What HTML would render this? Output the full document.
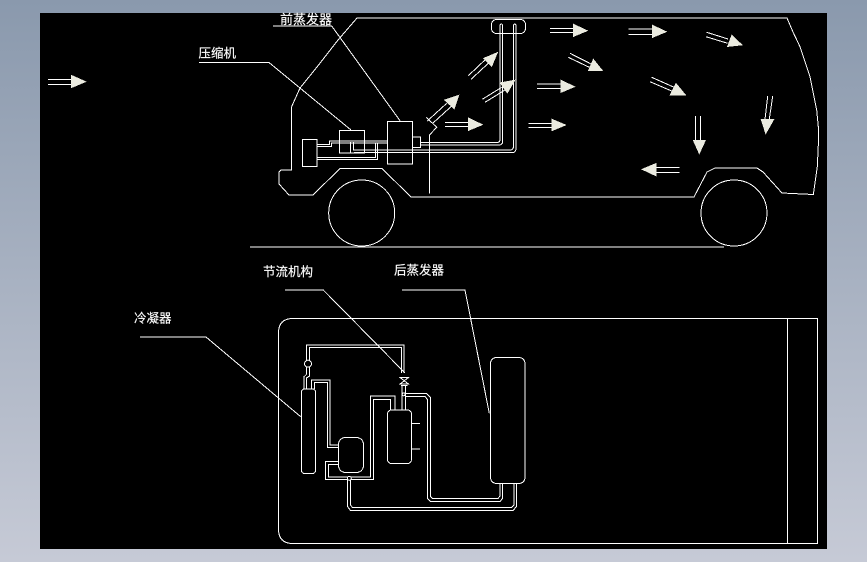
<!DOCTYPE html>
<html><head><meta charset="utf-8"><style>
html,body{margin:0;padding:0;width:867px;height:562px;overflow:hidden;background:#000}
svg{display:block}
text{font-family:"Liberation Sans","Noto Sans CJK SC",sans-serif;font-size:12.500px;fill:#fff;stroke:#fff;stroke-width:.15}
.l{fill:none;stroke:#fff;stroke-width:1;shape-rendering:crispEdges}
.a{fill:#ebebe0;stroke:#ebebe0;stroke-width:.5;shape-rendering:crispEdges}
</style></head><body>
<svg width="867" height="562" viewBox="0 0 867 562" xmlns="http://www.w3.org/2000/svg">
<defs><linearGradient id="g" x1="0" y1="0" x2="0" y2="1"><stop offset="0" stop-color="#8a99ad"/><stop offset="1" stop-color="#c6cad6"/></linearGradient></defs>
<rect width="867" height="562" fill="url(#g)"/>
<rect x="40" y="13" width="787" height="536" fill="#000"/>

<g class="l">
<!-- van -->
<path d="M357 18H787L793 32L800 46.700L810 76.700L816.700 110L818.300 126.700L818.300 145L817.300 166.700L813.300 194.500L782 193L763 172L757 168H715L707 172L694 197H692H411L382 168.500H340L313 195H289L279 184V172L281 170H291.500V107L300 88L317 67L338 40Z"/>
<circle cx="361.700" cy="213" r="33"/>
<circle cx="734" cy="213" r="33"/>
<path d="M250 247H724"/>
<path d="M426.300 117.300L436.700 127.300L429.500 135V193.500"/>
<!-- engine -->
<rect x="302.500" y="139.500" width="14.500" height="27"/>
<rect x="339.500" y="130.500" width="25" height="22.500"/>
<rect x="387.500" y="121.500" width="25" height="42.500"/>
<rect x="412.500" y="137" width="8" height="10.500"/>
<path d="M317 144.500H329.500V141H387.500M317 146.500H331.500V143H387.500"/>
<path d="M317 157.500H375.500V142.500M317 159.500H377.500V142.500"/>
<path d="M350.500 142V153M353.500 142V150H510Q513.500 150 513.500 146V25M354 152.700H512Q516 152.700 516 148V25"/>
<path d="M420.500 142.500H497Q500 142.500 500 139V25M420.500 145H499Q502.700 145 502.700 141V25"/>
<path d="M500 25Q501.500 23 502.700 25M513.500 25Q515 23 516 25"/>
<rect x="491.500" y="19.500" width="34" height="14" rx="5"/>
<!-- bottom frame -->
<path d="M817.500 318.500H293Q278.500 318.500 278.500 333V529Q278.500 543.500 293 543.500H817.500ZM787.500 318.500V543.500"/>
<!-- components -->
<rect x="301.500" y="389" width="14" height="84.500" rx="3"/>
<rect x="338.500" y="437.500" width="25" height="35" rx="7"/>
<rect x="387.500" y="410" width="24" height="53.500" rx="4"/>
<rect x="490.500" y="357.500" width="34.500" height="126" rx="6"/>
<path d="M411.500 423.500H420M411.500 449H420"/>
<path d="M304 389V376.700L306.500 374.300V345H404V373M306.500 389V378L309.500 376V347.500H401.500V373"/>
<path d="M400 377.500H408.500L400 384H408.500ZM401 385.500H407.500M402 385V410M405.500 385V410"/>
<path d="M311.500 389V380H330V445H338.500M314.500 389V382.500H327.500V447.500H338.500"/>
<path d="M338.500 461.500H325.500V479.500H373.500V399.500H390.500V410M338.500 464.500H328.500V477H370.500V396H395V410"/>
<path d="M347.500 478V506.500L350.500 510.500H513L516.500 506.500V483.500M350.500 478V505L352.500 507.500H511.500L514 505V483.500"/>
<path d="M405.500 393.500H426.500L430.500 397.500V496.500L432.500 498.500H498L500 496V483.500M405.500 396.500H425L427.500 399.500V498.500L430.500 501.500H500L502.500 498.500V483.500"/>
<circle cx="308" cy="363.700" r="3.500" fill="#000"/>
<circle cx="403.700" cy="394.300" r="1.500" fill="#000"/>
<circle cx="349.300" cy="478.300" r="2" fill="#000"/>
<!-- leaders -->
<path d="M273 26H331.700L400 120.700"/>
<path d="M199 62.500H269L351 130"/>
<path d="M285 290H323.300L405 373"/>
<path d="M402 290H465L489.300 413.300"/>
<path d="M140 337H206L300.700 416.700"/>
<!-- arrow shafts -->
<path d="M48 79.500H71M48 84.500H71"/>
<path d="M468.300 75.700L486.700 58.300M471 79.300L488.300 63.300"/>
<path d="M482.300 99.300L501.700 87.300M485 102.300L505 90"/>
<path d="M427.300 121L446.700 103.300M432.700 123.300L451.700 106"/>
<path d="M445 122.500H468.300M445 126.500H468.300"/>
<path d="M528.300 123.500H551.700M528.300 127.500H551.700"/>
<path d="M537 84H560.700M537 88.500H560.700"/>
<path d="M550 28.500H573.300M550 32.500H573.300"/>
<path d="M628.300 29H652.300M628.300 34.500H652.300"/>
<path d="M706.700 32.300L728 39M706 36.700L727.700 43.300"/>
<path d="M570 53.300L591.700 64.300M568.300 57.300L589.300 67.300"/>
<path d="M651.700 77.300L675 87.700M650 81.700L671.700 91"/>
<path d="M695.500 116V140M700.500 116V140"/>
<path d="M767.700 96L765 119.300M772.700 96L769.300 119.300"/>
<path d="M679.300 167.500H656M679.300 172.500H656"/>
</g>
<g class="a">
<polygon points="71,75 71,88 86,81.700"/>
<polygon points="497.700,52.300 483.300,58.300 491.700,66.700"/>
<polygon points="515,80 500,82.700 507.300,93.300"/>
<polygon points="459,95 444.300,100 454.300,109"/>
<polygon points="468.300,117.700 468.300,130.700 482.700,124.700"/>
<polygon points="551.700,119 551.700,131 566,125"/>
<polygon points="560.700,80 560.700,92.700 575,86.700"/>
<polygon points="573.300,24 573.300,36.700 587.700,30.700"/>
<polygon points="652.300,25 652.300,37.700 666.700,31.700"/>
<polygon points="742.300,45 731.700,35 727.300,46.700"/>
<polygon points="602.700,70.700 593.300,59 588.300,70.700"/>
<polygon points="685.700,95 676,83.300 670,95"/>
<polygon points="693,140 705.700,140 699.300,154"/>
<polygon points="761,119.300 774,119.300 765.700,134"/>
<polygon points="656,163.300 656,176 641.700,169.300"/>
</g>
<text x="280" y="24" style="font-size:13px">前蒸发器</text>
<text x="198.500" y="57.500">压缩机</text>
<text x="263" y="276">节流机构</text>
<text x="394" y="274.500">后蒸发器</text>
<text x="134" y="322.500">冷凝器</text>
</svg>
</body></html>
